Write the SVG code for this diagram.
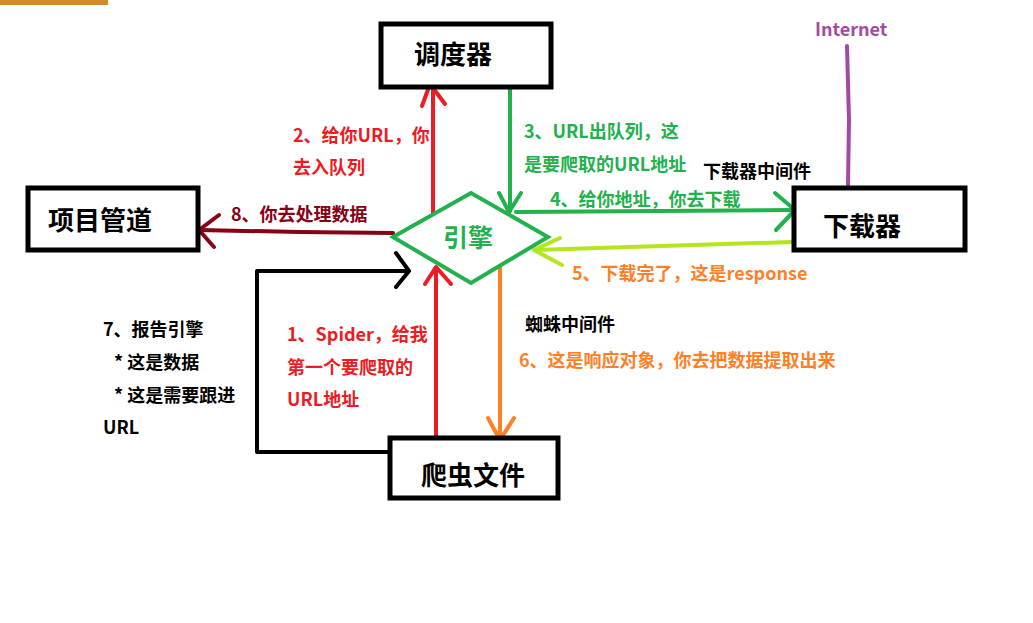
<svg xmlns="http://www.w3.org/2000/svg" width="1033" height="623" viewBox="0 0 1033 623">
<style>
text{font-family:"Noto Sans CJK SC","Microsoft YaHei",sans-serif;font-weight:bold}
.box{fill:#fff;stroke:#000;stroke-width:5}
.bt{font-size:26px;fill:#000}
.lb{font-size:18px}
.ln{fill:none;stroke-width:4;stroke-linecap:round;stroke-linejoin:round}
.red{stroke:#ed1c24}.tred{fill:#ed1c24}
.grn{stroke:#22b14c}.tgrn{fill:#22b14c}
.org{stroke:#ff7f27}.torg{fill:#ff7f27}
.lim{stroke:#b5e61d}
.drd{stroke:#880015}.tdrd{fill:#880015}
.blk{stroke:#000}.tblk{fill:#000}
.pur{stroke:#a349a4}.tpur{fill:#a349a4}
</style>
<rect x="0" y="0" width="1033" height="623" fill="#fff"/>
<rect x="0" y="0" width="108" height="5" fill="#d08c2a"/>

<g id="connectors">
  <g id="c1"><line class="ln red" x1="436" y1="437" x2="436" y2="268"/><polyline class="ln red" points="425,284 436,267 451,284"/></g>
  <g id="c2"><line class="ln red" x1="433" y1="213" x2="433" y2="84"/><polyline class="ln red" points="422,106 430,84 445,104"/></g>
  <g id="c3"><line class="ln grn" x1="510" y1="88" x2="510" y2="211"/><polyline class="ln grn" points="499,193 509,212 521,193"/></g>
  <g id="c4"><line class="ln grn" x1="516" y1="212" x2="795" y2="210"/><polyline class="ln grn" points="775,193 795,210 776,230"/></g>
  <g id="c5"><line class="ln lim" x1="792" y1="242" x2="535" y2="250"/><polyline class="ln lim" points="560,238 534,250 562,265"/></g>
  <g id="c6"><line class="ln org" x1="500" y1="266" x2="500" y2="439"/><polyline class="ln org" points="488,418 500,440 514,418"/></g>
  <g id="c7"><polyline class="ln blk" points="389,452 257,452 257,271 408,271"/><polyline class="ln blk" points="396,253 409,271 396,287"/></g>
  <g id="c8"><polyline class="ln drd" points="393,233 300,232 199,230"/><polyline class="ln drd" points="219,215 199,230 214,247"/></g>
  <g id="cnet"><polyline class="ln pur" points="847,46 849,120 848,185"/></g>
</g>

<g id="scheduler"><rect class="box" x="381" y="24" width="170" height="63"/><text class="bt" x="414" y="64">调度器</text></g>
<g id="pipeline"><rect class="box" x="28" y="188" width="170" height="62"/><text class="bt" x="48" y="230">项目管道</text></g>
<g id="downloader"><rect class="box" x="794" y="188" width="171" height="62"/><text class="bt" x="823" y="236">下载器</text></g>
<g id="spider"><rect class="box" x="390" y="438" width="168" height="60"/><text class="bt" x="421" y="485">爬虫文件</text></g>
<g id="engine"><polygon points="393,237 471,193 548,237 471,283" fill="#fff" stroke="#22b14c" stroke-width="4"/><text x="443" y="247" font-size="25" class="tgrn">引擎</text></g>
<g id="internet"><text class="lb tpur" x="815" y="36">Internet</text></g>

<g id="labels">
  <text class="lb tred" x="293" y="142">2、给你URL，你</text>
  <text class="lb tred" x="293" y="174">去入队列</text>
  <text class="lb tgrn" x="524" y="138">3、URL出队列，这</text>
  <text class="lb tgrn" x="524" y="171">是要爬取的URL地址</text>
  <text class="lb tblk" x="703" y="178">下载器中间件</text>
  <text class="lb tgrn" x="550" y="206">4、给你地址，你去下载</text>
  <text class="lb tdrd" x="231" y="221">8、你去处理数据</text>
  <text class="lb torg" x="572" y="280">5、下载完了，这是response</text>
  <text class="lb tblk" x="525" y="331">蜘蛛中间件</text>
  <text class="lb torg" x="519" y="367">6、这是响应对象，你去把数据提取出来</text>
  <text class="lb tred" x="287" y="341">1、Spider，给我</text>
  <text class="lb tred" x="287" y="374">第一个要爬取的</text>
  <text class="lb tred" x="287" y="406">URL地址</text>
  <text class="lb tblk" x="103" y="336">7、报告引擎</text>
  <text class="lb tblk" x="114" y="369">* 这是数据</text>
  <text class="lb tblk" x="114" y="402">* 这是需要跟进</text>
  <text class="lb tblk" x="103" y="434">URL</text>
</g>
</svg>
